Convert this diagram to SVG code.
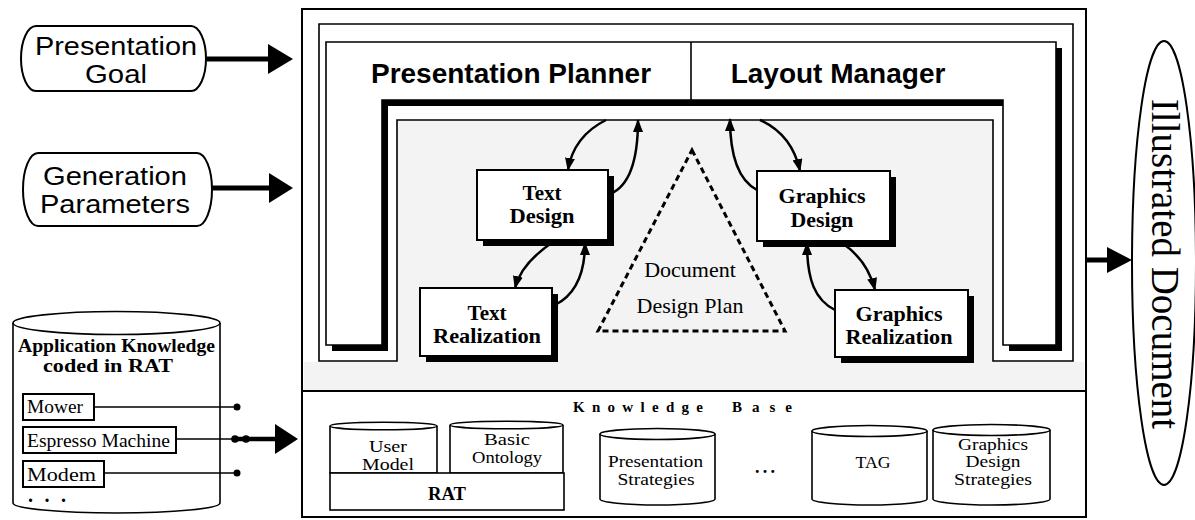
<svg xmlns="http://www.w3.org/2000/svg" width="1195" height="520" viewBox="0 0 1195 520">
<style>
.ln{fill:none;stroke:#000;stroke-width:2}
.bx{fill:#fff;stroke:#000;stroke-width:2}
.sh{fill:#000}
.sans{font-family:"Liberation Sans",Arial,sans-serif;fill:#000}
.serif{font-family:"Liberation Serif","Times New Roman",serif;fill:#000}
.b{font-weight:bold}
.mid{text-anchor:middle}
.cur{fill:none;stroke:#000;stroke-width:2.5}
.cyl{fill:#fff;stroke:#000;stroke-width:1.6}
</style>
<defs>
<marker id="ah" markerUnits="userSpaceOnUse" markerWidth="14" markerHeight="10" refX="12" refY="5" orient="auto">
<path d="M0,0 L13,5 L0,10 z" fill="#000"/>
</marker>
</defs>
<rect width="1195" height="520" fill="#fff"/>

<g id="main-frame">
<rect x="304" y="362" width="780" height="29" fill="#f3f3f3"/>
<rect x="397" y="120" width="596" height="242" fill="#f3f3f3"/>
<rect x="302" y="9" width="784" height="508" class="ln" stroke-width="2.5"/>
<line x1="302" y1="391" x2="1086" y2="391" stroke="#000" stroke-width="2.2"/>
<polygon points="319,24 1073,24 1073,361 993,361 993,120 397,120 397,361 319,361" fill="#fff" stroke="#000" stroke-width="1.6"/>
<polygon points="332,48 1062,48 1062,351 1009,351 1009,106 388,106 388,351 332,351" class="sh"/>
<polygon points="326,42 1056,42 1056,345 1003,345 1003,100 382,100 382,345 326,345" fill="#fff" stroke="#000" stroke-width="1.6"/>
<line x1="691" y1="42" x2="691" y2="100" stroke="#000" stroke-width="1.6"/>
</g>

<g id="presentation-planner">
<text x="511" y="83" class="sans b mid" font-size="28">Presentation Planner</text>
</g>
<g id="layout-manager">
<text x="838" y="83" class="sans b mid" font-size="28">Layout Manager</text>
</g>

<g id="presentation-goal">
<path d="M36,26 H191 A15,32.5 0 0 1 191,91 H36 A15,32.5 0 0 1 36,26 Z" class="bx"/>
<text x="116" y="55" class="sans mid" font-size="25.5" textLength="162" lengthAdjust="spacingAndGlyphs">Presentation</text>
<text x="116" y="83" class="sans mid" font-size="25.5" textLength="62" lengthAdjust="spacingAndGlyphs">Goal</text>
</g>
<g id="generation-parameters">
<path d="M38,153 H197 A15,36.5 0 0 1 197,226 H38 A15,36.5 0 0 1 38,153 Z" class="bx"/>
<text x="115" y="185" class="sans mid" font-size="25.5" textLength="144" lengthAdjust="spacingAndGlyphs">Generation</text>
<text x="115" y="213" class="sans mid" font-size="25.5" textLength="150" lengthAdjust="spacingAndGlyphs">Parameters</text>
</g>

<g id="text-design">
<rect x="483" y="176" width="131" height="70" class="sh"/>
<rect x="477" y="170" width="131" height="70" class="bx"/>
<text x="542" y="200" class="serif b mid" font-size="21">Text</text>
<text x="542" y="223" class="serif b mid" font-size="21" textLength="65" lengthAdjust="spacingAndGlyphs">Design</text>
</g>
<g id="text-realization">
<rect x="426" y="294" width="132" height="68" class="sh"/>
<rect x="420" y="288" width="132" height="68" class="bx"/>
<text x="487" y="320" class="serif b mid" font-size="21">Text</text>
<text x="487" y="343" class="serif b mid" font-size="21" textLength="108" lengthAdjust="spacingAndGlyphs">Realization</text>
</g>
<g id="graphics-design">
<rect x="763" y="177" width="133" height="70" class="sh"/>
<rect x="757" y="171" width="133" height="70" class="bx"/>
<text x="822" y="203" class="serif b mid" font-size="21" textLength="87" lengthAdjust="spacingAndGlyphs">Graphics</text>
<text x="822" y="227" class="serif b mid" font-size="21" textLength="63" lengthAdjust="spacingAndGlyphs">Design</text>
</g>
<g id="graphics-realization">
<rect x="841" y="296" width="133" height="67" class="sh"/>
<rect x="835" y="290" width="133" height="67" class="bx"/>
<text x="899" y="321" class="serif b mid" font-size="20" textLength="87" lengthAdjust="spacingAndGlyphs">Graphics</text>
<text x="899" y="344" class="serif b mid" font-size="20" textLength="107" lengthAdjust="spacingAndGlyphs">Realization</text>
</g>

<g id="document-design-plan">
<polygon points="692,150 785,331 598,331" fill="none" stroke="#000" stroke-width="3" stroke-dasharray="6,4"/>
<text x="690" y="277" class="serif mid" font-size="22">Document</text>
<text x="690" y="313" class="serif mid" font-size="22">Design Plan</text>
</g>

<g id="illustrated-document">
<ellipse cx="1164" cy="263" rx="32" ry="222" fill="#fff" stroke="#000" stroke-width="2"/>
<text transform="translate(1152,264) rotate(90)" x="0" y="0" class="serif mid" font-size="39">Illustrated Document</text>
</g>

<g id="application-knowledge">
<path d="M13,323 V503 A103.5,10 0 0 0 220,503 V323" class="cyl" stroke-width="2"/>
<ellipse cx="116.5" cy="323" rx="103.5" ry="11.5" class="cyl" stroke-width="2"/>
<text x="116.5" y="352" class="serif b mid" font-size="18" textLength="197" lengthAdjust="spacingAndGlyphs">Application Knowledge</text>
<text x="108" y="372" class="serif b mid" font-size="18" textLength="130" lengthAdjust="spacingAndGlyphs">coded in RAT</text>
<rect x="23" y="394" width="71" height="26" class="bx" stroke-width="1.6"/>
<text x="27" y="413" class="serif" font-size="19" textLength="56" lengthAdjust="spacingAndGlyphs">Mower</text>
<rect x="23" y="427" width="153" height="26" class="bx" stroke-width="1.6"/>
<text x="27" y="447" class="serif" font-size="19" textLength="143" lengthAdjust="spacingAndGlyphs">Espresso Machine</text>
<rect x="23" y="461" width="81" height="26" class="bx" stroke-width="1.6"/>
<text x="27" y="481" class="serif" font-size="19" textLength="69" lengthAdjust="spacingAndGlyphs">Modem</text>
<text x="28" y="502" class="serif b" font-size="20" textLength="38" lengthAdjust="spacing">...</text>
</g>

<g id="knowledge-base">
<text x="573" y="412" class="serif b" font-size="15" textLength="130" lengthAdjust="spacing">Knowledge</text>
<text x="732" y="412" class="serif b" font-size="15" textLength="60" lengthAdjust="spacing">Base</text>
</g>
<g id="user-model">
<path d="M330,426 V473 H437 V426" class="cyl"/>
<ellipse cx="383.5" cy="426" rx="53.5" ry="3.8" class="cyl" stroke-width="2.5"/>
<text x="388" y="452" class="serif mid" font-size="17" textLength="38" lengthAdjust="spacingAndGlyphs">User</text>
<text x="388" y="470" class="serif mid" font-size="17" textLength="52" lengthAdjust="spacingAndGlyphs">Model</text>
</g>
<g id="basic-ontology">
<path d="M450,425 V473 H563 V425" class="cyl"/>
<ellipse cx="506.5" cy="425" rx="56.5" ry="3.8" class="cyl" stroke-width="2.5"/>
<text x="507" y="445" class="serif mid" font-size="17" textLength="46" lengthAdjust="spacingAndGlyphs">Basic</text>
<text x="507" y="463" class="serif mid" font-size="17" textLength="70" lengthAdjust="spacingAndGlyphs">Ontology</text>
</g>
<g id="rat">
<rect x="330" y="473" width="234" height="37" class="cyl"/>
<text x="447" y="500" class="serif b mid" font-size="18" textLength="38" lengthAdjust="spacingAndGlyphs">RAT</text>
</g>
<g id="presentation-strategies">
<path d="M600,434 V499 A57.5,6 0 0 0 715,499 V434" class="cyl"/>
<ellipse cx="657.5" cy="434" rx="57.5" ry="5.5" class="cyl" stroke-width="2"/>
<text x="655.5" y="467" class="serif mid" font-size="17" textLength="95" lengthAdjust="spacingAndGlyphs">Presentation</text>
<text x="656" y="485" class="serif mid" font-size="17" textLength="77" lengthAdjust="spacingAndGlyphs">Strategies</text>
</g>
<g id="kb-more">
<text x="755" y="473" class="serif b" font-size="18" textLength="20" lengthAdjust="spacing">...</text>
</g>
<g id="tag">
<path d="M812,431 V499 A57.5,6 0 0 0 927,499 V431" class="cyl"/>
<ellipse cx="869.5" cy="431" rx="57.5" ry="5.5" class="cyl" stroke-width="2"/>
<text x="873" y="468" class="serif mid" font-size="17" textLength="35" lengthAdjust="spacingAndGlyphs">TAG</text>
</g>
<g id="graphics-design-strategies">
<path d="M933,430 V499 A58.5,6 0 0 0 1050,499 V430" class="cyl"/>
<ellipse cx="991.5" cy="430" rx="58.5" ry="5.5" class="cyl" stroke-width="2"/>
<text x="993" y="450" class="serif mid" font-size="17" textLength="70" lengthAdjust="spacingAndGlyphs">Graphics</text>
<text x="993" y="467" class="serif mid" font-size="17" textLength="55" lengthAdjust="spacingAndGlyphs">Design</text>
<text x="993" y="485" class="serif mid" font-size="17" textLength="78" lengthAdjust="spacingAndGlyphs">Strategies</text>
</g>

<g id="connectors">
<line x1="207" y1="59" x2="270" y2="59" stroke="#000" stroke-width="5"/>
<polygon points="268,44 293,59 268,74" fill="#000"/>
<line x1="212" y1="188" x2="271" y2="188" stroke="#000" stroke-width="5"/>
<polygon points="269,173 293,188 269,203" fill="#000"/>
<line x1="94" y1="407" x2="237" y2="407" stroke="#000" stroke-width="1.6"/>
<circle cx="237" cy="407" r="3.5" fill="#000"/>
<line x1="104" y1="473" x2="237" y2="473" stroke="#000" stroke-width="1.6"/>
<circle cx="237" cy="473" r="3.5" fill="#000"/>
<line x1="176" y1="439" x2="235" y2="439" stroke="#000" stroke-width="1.6"/>
<line x1="235" y1="439" x2="277" y2="439" stroke="#000" stroke-width="4.5"/>
<circle cx="235" cy="439" r="3.8" fill="#000"/>
<circle cx="246" cy="439" r="3.8" fill="#000"/>
<polygon points="275,424 298,439 275,454" fill="#000"/>
<line x1="1086" y1="260" x2="1110" y2="260" stroke="#000" stroke-width="5"/>
<polygon points="1107,247 1132,260 1107,273" fill="#000"/>
<path d="M606,120 C586,130 572,146 568,170" class="cur" marker-end="url(#ah)"/>
<path d="M610,194 C630,186 638,160 638,120" class="cur" marker-end="url(#ah)"/>
<path d="M553,242 C535,254 520,268 515,288" class="cur" marker-end="url(#ah)"/>
<path d="M555,305 C575,295 585,275 585,243" class="cur" marker-end="url(#ah)"/>
<path d="M757,190 C738,180 730,155 730,119" class="cur" marker-end="url(#ah)"/>
<path d="M760,120 C782,130 795,148 800,171" class="cur" marker-end="url(#ah)"/>
<path d="M842,243 C860,255 870,270 875,290" class="cur" marker-end="url(#ah)"/>
<path d="M835,310 C815,300 807,280 807,243" class="cur" marker-end="url(#ah)"/>
</g>
</svg>
